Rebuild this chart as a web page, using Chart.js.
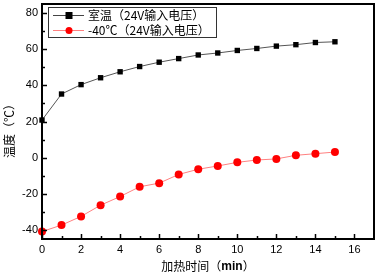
<!DOCTYPE html>
<html>
<head>
<meta charset="utf-8">
<script src="https://cdn.jsdelivr.net/npm/chart.js@4"></script>
<style>
  html, body { margin: 0; padding: 0; background: #fff; }
  #wrap { width: 378px; height: 274px; }
</style>
</head>
<body>
<div id="wrap"><canvas id="chart" width="378" height="274"></canvas></div>
<script>
// time in minutes
const minutes = [0, 1, 2, 3, 4, 5, 6, 7, 8, 9, 10, 11, 12, 13, 14, 15];
const roomTemp = [20.8, 35.2, 40.4, 44.2, 47.5, 50.4, 52.8, 54.8, 56.8, 57.9, 59.3, 60.4, 61.7, 62.5, 63.7, 64.1];
const coldTemp = [-40.9, -37.3, -32.5, -26.3, -21.5, -16.1, -14.1, -9.3, -6.4, -4.6, -2.6, -1.3, -0.7, 1.3, 2.2, 3.1];
const seriesNames = ["室温（24V输入电压）", "-40℃（24V输入电压）"];
const xTicks = [0, 2, 4, 6, 8, 10, 12, 14, 16];
const yTicks = [-40, -20, 0, 20, 40, 60, 80];

const latin = "'Liberation Sans', Arial, sans-serif";
const cjk = "'Noto Sans CJK SC', sans-serif";

// frame, inward ticks, axis titles and the boxed legend
const decor = {
    id: "decor",
    afterDraw(chart) {
        const ctx = chart.ctx;
        const a = chart.chartArea;
        const xs = chart.scales.x, ys = chart.scales.y;
        ctx.save();
        ctx.strokeStyle = "#000";
        ctx.lineWidth = 1.5;
        // minor + major ticks on bottom axis
        for (let v = 0; v <= 16; v++) {
            const px = Math.round(xs.getPixelForValue(v)) + 0.5;
            const len = v % 2 === 0 ? 5 : 3;
            ctx.beginPath();
            ctx.moveTo(px, a.bottom);
            ctx.lineTo(px, a.bottom - len);
            ctx.stroke();
        }
        // ticks on left axis
        for (let v = -40; v <= 80; v += 10) {
            const py = Math.round(ys.getPixelForValue(v)) + 0.5;
            const len = v % 20 === 0 ? 5 : 3;
            ctx.beginPath();
            ctx.moveTo(a.left, py);
            ctx.lineTo(a.left + len, py);
            ctx.stroke();
        }
        ctx.lineWidth = 2;
        ctx.strokeRect(a.left, a.top, a.right - a.left, a.bottom - a.top);

        // x title
        ctx.fillStyle = "#000";
        ctx.textBaseline = "middle";
        const t1 = "加热时间（", t2 = "min", t3 = "）";
        ctx.font = "12px " + cjk;
        const w1 = ctx.measureText(t1).width, w3 = ctx.measureText(t3).width;
        ctx.font = "bold 12px " + latin;
        const w2 = ctx.measureText(t2).width;
        let x0 = (a.left + a.right) / 2 - (w1 + w2 + w3) / 2;
        const ty = 266;
        ctx.textAlign = "left";
        ctx.font = "12px " + cjk;
        ctx.fillText(t1, x0, ty);
        ctx.font = "bold 12px " + latin;
        ctx.fillText(t2, x0 + w1, ty + 1);
        ctx.font = "12px " + cjk;
        ctx.fillText(t3, x0 + w1 + w2, ty);

        // y title
        ctx.save();
        ctx.translate(9, 128);
        ctx.rotate(-Math.PI / 2);
        ctx.textAlign = "center";
        ctx.font = "12px " + cjk;
        ctx.fillText("温度（℃）", 0, 0);
        ctx.restore();

        // legend box
        ctx.lineWidth = 1;
        ctx.strokeStyle = "#333";
        ctx.fillStyle = "#fff";
        ctx.fillRect(48.5, 7.5, 168, 30);
        ctx.strokeRect(48.5, 7.5, 168, 30);
        const rows = [
            { y: 15.5, line: "#444", mark: "#000", square: true },
            { y: 30.5, line: "#ff8080", mark: "#ff0000", square: false }
        ];
        rows.forEach((r, i) => {
            ctx.strokeStyle = r.line;
            ctx.beginPath();
            ctx.moveTo(53, r.y);
            ctx.lineTo(84, r.y);
            ctx.stroke();
            ctx.fillStyle = r.mark;
            if (r.square) {
                ctx.fillRect(65.5, r.y - 3.5, 7, 7);
            } else {
                ctx.beginPath();
                ctx.arc(69, r.y, 3.5, 0, Math.PI * 2);
                ctx.fill();
            }
            ctx.fillStyle = "#000";
            ctx.textAlign = "left";
            ctx.font = "12px " + cjk;
            ctx.fillText(seriesNames[i], 88, r.y);
        });
        ctx.restore();
    }
};

new Chart(document.getElementById("chart"), {
    type: "line",
    data: {
        datasets: [{
            label: seriesNames[0],
            data: minutes.map((m, i) => ({ x: m, y: roomTemp[i] })),
            borderColor: "#555",
            borderWidth: 1,
            pointStyle: "rect",
            pointRadius: 3.8,
            pointBackgroundColor: "#000",
            pointBorderColor: "#000",
            pointBorderWidth: 0,
            tension: 0
        }, {
            label: seriesNames[1],
            data: minutes.map((m, i) => ({ x: m, y: coldTemp[i] })),
            borderColor: "#ff8080",
            borderWidth: 1,
            pointStyle: "circle",
            pointRadius: 4,
            pointBackgroundColor: "#ff0000",
            pointBorderColor: "#ff0000",
            pointBorderWidth: 0,
            tension: 0
        }]
    },
    options: {
        responsive: false,
        animation: false,
        clip: false,
        layout: { padding: { top: 3, right: 4, left: 0, bottom: 0 } },
        plugins: { legend: { display: false }, tooltip: { enabled: false } },
        scales: {
            x: {
                type: "linear",
                min: 0,
                max: 17,
                afterBuildTicks: s => { s.ticks = xTicks.map(v => ({ value: v })); },
                afterFit: s => { s.height = 35; s.paddingLeft = 0; s.paddingRight = 0; },
                grid: { display: false, drawTicks: false },
                border: { display: false },
                ticks: { color: "#000", padding: 4, font: { size: 11, family: latin }, maxRotation: 0 }
            },
            y: {
                min: -45,
                max: 85,
                afterBuildTicks: s => { s.ticks = yTicks.map(v => ({ value: v })); },
                afterFit: s => { s.width = 42; s.paddingTop = 0; s.paddingBottom = 0; },
                grid: { display: false, drawTicks: false },
                border: { display: false },
                ticks: { color: "#000", padding: 4, font: { size: 11, family: latin } }
            }
        }
    },
    plugins: [decor]
});
</script>
</body>
</html>
